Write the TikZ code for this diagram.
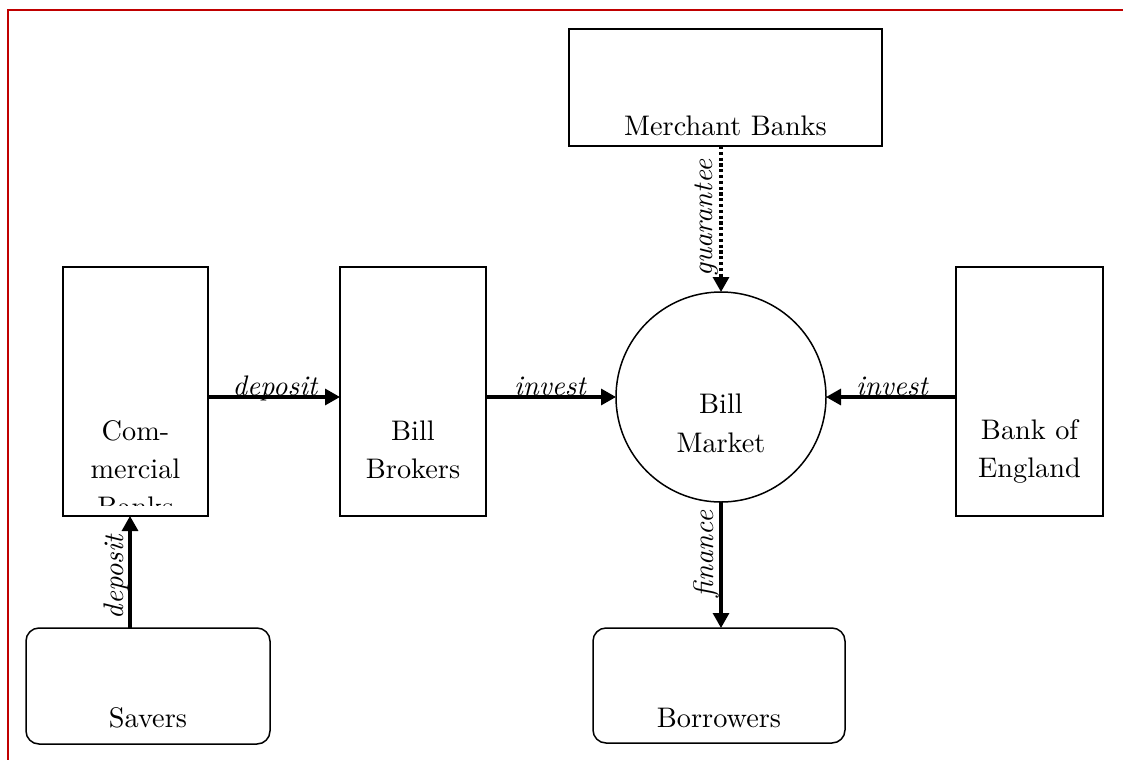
\documentclass[tikz,border=0pt]{standalone}
\usepackage{fontspec}
\setmainfont{lmroman10-regular.otf}[ItalicFont=lmroman10-italic.otf]
\usetikzlibrary{arrows.meta,calc}
\definecolor{framered}{HTML}{C00000}
\begin{document}
\begin{tikzpicture}[x=1pt,y=-1pt,
  box/.style={draw=black,line width=1.8pt,rectangle,inner sep=0pt,outer sep=0pt},
  rbox/.style={draw=black,line width=1.5pt,rectangle,rounded corners=13pt,inner sep=0pt,outer sep=0pt},
  circ/.style={draw=black,line width=1.5pt,circle,inner sep=0pt,outer sep=0pt,minimum size=210pt},
  txt/.style={inner sep=0pt,outer sep=0pt,font=\fontsize{28.3}{38}\selectfont,anchor=base},
  lbl/.style={inner sep=0pt,outer sep=0pt,font=\fontsize{28.3}{38}\selectfont\itshape,anchor=base},
  arr/.style={line width=3.2pt,-{Triangle[length=15pt,width=16pt]}},
  darr/.style={line width=3.2pt,dash pattern=on 3.2pt off 2.6pt,-{Triangle[length=15pt,width=16pt]}}]
\useasboundingbox (0,0) rectangle (1123,760);
\draw[framered,line width=2pt] (1123,10) -- (8,10) -- (8,760);
% boxes
\node[box,minimum width=313pt,minimum height=117pt] (mb) at (725.5,87.5) {};
\node[box,minimum width=145pt,minimum height=249pt] (cb) at (135.5,391.5) {};
\node[box,minimum width=146pt,minimum height=249pt] (bb) at (413,391.5) {};
\node[box,minimum width=147pt,minimum height=249pt] (be) at (1029.5,391.5) {};
\node[rbox,minimum width=244pt,minimum height=116pt] (sv) at (148,686) {};
\node[rbox,minimum width=252pt,minimum height=115pt] (bo) at (719,685.5) {};
\node[circ] (bm) at (721,397) {};
% texts
\node[txt] (mbt) at (725.5,135) {Merchant Banks};
\begin{scope}
\clip (64,268) rectangle (207,505);
\node[txt] (cbt1) at (135.5,440) {Com-};
\node[txt] (cbt2) at (135.5,478) {mercial};
\node[txt] (cbt3) at (135.5,516) {Banks};
\end{scope}
\node[txt] (bbt1) at (413,440) {Bill};
\node[txt] (bbt2) at (413,478) {Brokers};
\node[txt] (bet1) at (1029.5,439) {Bank of};
\node[txt] (bet2) at (1029.5,477) {England};
\node[txt] (bmt1) at (721,413) {Bill};
\node[txt] (bmt2) at (721,452) {Market};
\node[txt] (svt) at (148,727) {Savers};
\node[txt] (bot) at (719,727) {Borrowers};
% connectors
\coordinate (dx) at (130,0);
\draw[arr] (cb.east |- bm.center) -- (bb.west |- bm.center);
\draw[arr] (bb.east |- bm.center) -- (bm.west);
\draw[arr] (be.west |- bm.center) -- (bm.east);
\draw[darr] (bm.north |- mb.south) -- (bm.north);
\draw[arr] (bm.south) -- (bm.south |- bo.north);
\draw[arr] (sv.north -| dx) -- (cb.south -| dx);
% labels
\node[lbl] (l1) at (275,395) {deposit};
\node[lbl] (l2) at (550,395) {invest};
\node[lbl] (l3) at (892,395) {invest};
\node[lbl,rotate=90] (l4) at (712,218) {guarantee};
\node[lbl,rotate=90] (l5) at (713,554) {finance};
\node[lbl,rotate=90] (l6) at (123,577) {deposit};
\end{tikzpicture}
\end{document}
